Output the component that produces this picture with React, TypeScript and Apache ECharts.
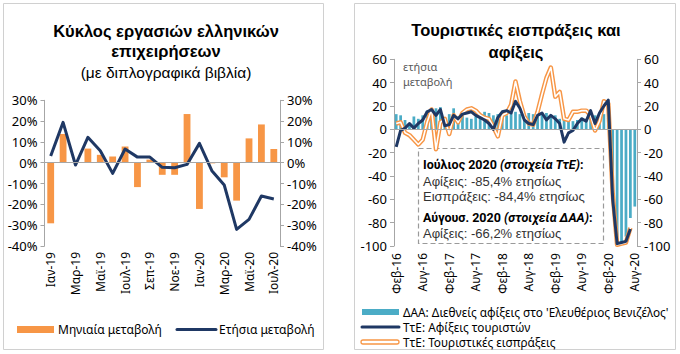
import React, { useEffect, useRef } from "react";
import * as echarts from "echarts";

const FONT = "'Noto Sans', 'DejaVu Sans', sans-serif";
const BOLD_FONT = "Roboto, 'Noto Sans', sans-serif";
const TITLE_FONT = "'Liberation Sans', Arial, sans-serif";

// ---- Left chart data ----
const leftCats = ["Ιαν-19", "Φεβ-19", "Μαρ-19", "Απρ-19", "Μαϊ-19", "Ιουν-19", "Ιουλ-19", "Αυγ-19", "Σεπ-19", "Οκτ-19", "Νοε-19", "Δεκ-19", "Ιαν-20", "Φεβ-20", "Μαρ-20", "Απρ-20", "Μαϊ-20", "Ιουν-20", "Ιουλ-20"];
const monthlyChange = [-29.1, 13.8, 0.3, 6.8, 3.8, 3.0, 7.8, -11.7, 1.5, -5.8, -5.8, 23.4, -22.2, -0.3, -7.0, -18.2, 11.7, 18.4, 6.6];
const annualChange = [3.2, 19.4, -1.1, 12.2, 5.8, -5.1, 6.6, 2.7, 2.7, -2.2, -2.4, -0.8, 9.3, -3.8, -10.7, -32.0, -27.2, -16.0, -17.4];
const leftTicks = { min: -40, max: 30, interval: 10 };

// ---- Right chart data ----
const monthNames = ["Ιαν", "Φεβ", "Μαρ", "Απρ", "Μαϊ", "Ιουν", "Ιουλ", "Αυγ", "Σεπ", "Οκτ", "Νοε", "Δεκ"];
const firstYear = 16;
const firstMonth = 1; // Φεβ
const monthCount = 55; // Φεβ-16 .. Αυγ-20
const rightCats: string[] = [];
for (let i = 0; i < monthCount; i++) {
  const m = (firstMonth + i) % 12;
  const y = firstYear + Math.floor((firstMonth + i) / 12);
  rightCats.push(monthNames[m] + "-" + y);
}
const airportArrivals = [
  13, 12, 8, 5, 11, 9, 12, 16, 17, 18, 19, 10,
  13, 18, 11, 13, 10, 9, 11, 13, 15, 14, 12, 13,
  14, 12, 14, 15, 13, 12, 14, 13, 11, 13, 14, 11,
  12, 9, 10, 8, 7, 8, 10, 9, 11, 12, 10, 13,
  10, -45, -99, -98, -92, -76, -66.2,
];
const bogArrivals = [
  -15, -1, 1, 5, 1, 5, 8, 15, 17, 12, 17, 3,
  4, 12, 9, 13, 14, 15, 12, 10, 8, 5, 0, 10,
  15, 16, 14, 24, 18, 8, 5, 4, 12, 14, 8, 12,
  9, 5, -11, -3, -1, 5, 9, 7, 16, 5, 14, 20,
  25, -60, -98, -97, -96, -85.4,
];
const bogReceipts = [
  5, 6, -3, -5, -9, -13, -9, 6, 17, -17, 6, 9,
  -4, 12, 6, 14, 17, 18, 16, 12, 10, 9, 2, -6,
  12, 14, 21, 41, 24, 11, 5, 4, 15, 30, 44, 53,
  28, 32, 9, 8, 15, 15, 16, 16, 12, -1, 7, 24,
  22, -55, -99, -98, -97, -84.4,
];
const rightTicks = { min: -100, max: 60, interval: 20 };

const ORANGE = "#F79646";
const NAVY = "#1F3864";
const TEAL = "#4BACC6";
const AXIS_GRAY = "#A6A6A6";

export default function App() {
  const ref = useRef<HTMLDivElement>(null);
  useEffect(() => {
    if (!ref.current) return;
    const chart = echarts.init(ref.current, undefined, { renderer: "svg" });
    const yAxisBase = (gridIndex: number, position: string, ticks: any, fmt: string, fs: number) => ({
      type: "value",
      gridIndex,
      position,
      min: ticks.min,
      max: ticks.max,
      interval: ticks.interval,
      axisLine: { show: true, lineStyle: { color: AXIS_GRAY, width: 1 } },
      axisTick: { show: true, length: 4, lineStyle: { color: AXIS_GRAY } },
      splitLine: { show: false },
      axisLabel: { formatter: fmt, fontSize: fs, color: "#000", fontFamily: FONT, margin: 7 },
    });
    const zeroLine = {
      silent: true,
      symbol: "none",
      label: { show: false },
      lineStyle: { color: AXIS_GRAY, type: "solid", width: 1 },
      data: [{ yAxis: 0 }],
    };
    const txt = (text: string, x: number, y: number, font: string, fill = "#000", align = "left") => ({
      type: "text",
      style: { text, x, y, font, fill, align, verticalAlign: "middle" },
    });
    const boldRich = {
      b: { font: `bold 12.5px ${BOLD_FONT}`, fill: "#000" },
      bi: { font: `italic bold 12.5px ${BOLD_FONT}`, fill: "#000" },
    };
    const option: any = {
      animation: false,
      grid: [
        { left: 44.5, top: 100.3, width: 235.5, height: 145.7 },
        { left: 394, top: 59.3, width: 243, height: 186.7 },
      ],
      xAxis: [
        {
          type: "category", gridIndex: 0, data: leftCats,
          axisLine: { show: false }, axisTick: { show: false },
          axisLabel: { rotate: 90, interval: 1, fontSize: 12, color: "#000", fontFamily: FONT, margin: 6 },
        },
        {
          type: "category", gridIndex: 1, data: rightCats,
          axisLine: { show: false }, axisTick: { show: false },
          axisLabel: { rotate: 90, interval: 5, fontSize: 12, color: "#000", fontFamily: FONT, margin: 7 },
        },
      ],
      yAxis: [
        yAxisBase(0, "left", leftTicks, "{value}%", 13),
        yAxisBase(0, "right", leftTicks, "{value}%", 13),
        yAxisBase(1, "left", rightTicks, "{value}", 13),
        yAxisBase(1, "right", rightTicks, "{value}", 13),
      ],
      series: [
        {
          name: "Μηνιαία μεταβολή", type: "bar", xAxisIndex: 0, yAxisIndex: 0,
          data: monthlyChange, barWidth: "55%", itemStyle: { color: ORANGE },
          markLine: zeroLine,
        },
        {
          name: "Ετήσια μεταβολή", type: "line", xAxisIndex: 0, yAxisIndex: 0,
          data: annualChange, symbol: "none", lineStyle: { color: NAVY, width: 3, join: "round" },
        },
        {
          name: "ΔΑΑ", type: "bar", xAxisIndex: 1, yAxisIndex: 2,
          data: airportArrivals, barWidth: "62%", itemStyle: { color: TEAL },
          markLine: zeroLine,
        },
        {
          name: "ΤτΕ εισπράξεις", type: "line", xAxisIndex: 1, yAxisIndex: 2,
          data: bogReceipts, symbol: "none", lineStyle: { color: ORANGE, width: 4.5, join: "round" },
        },
        {
          name: "ΤτΕ εισπράξεις inner", type: "line", xAxisIndex: 1, yAxisIndex: 2,
          data: bogReceipts, symbol: "none", lineStyle: { color: "#fff", width: 1.6, join: "round" },
        },
        {
          name: "ΤτΕ αφίξεις", type: "line", xAxisIndex: 1, yAxisIndex: 2,
          data: bogArrivals, symbol: "none", lineStyle: { color: NAVY, width: 3, join: "round" },
        },
      ],
      graphic: [
        // panel borders
        { type: "rect", shape: { x: 3.5, y: 3.5, width: 320, height: 346 }, style: { fill: "none", stroke: "#D0D0D0", lineWidth: 1 }, silent: true },
        { type: "rect", shape: { x: 354.5, y: 3.5, width: 321, height: 346 }, style: { fill: "none", stroke: "#D0D0D0", lineWidth: 1 }, silent: true },
        // left title
        txt("Κύκλος εργασιών ελληνικών", 166, 31, `bold 16.5px ${TITLE_FONT}`, "#000", "center"),
        txt("επιχειρήσεων", 166, 50.5, `bold 16.5px ${TITLE_FONT}`, "#000", "center"),
        txt("(με διπλογραφικά βιβλία)", 166, 72.5, `15.5px ${TITLE_FONT}`, "#000", "center"),
        // right title
        txt("Τουριστικές εισπράξεις και", 516, 29.5, `bold 16.5px ${TITLE_FONT}`, "#000", "center"),
        txt("αφίξεις", 516, 51.5, `bold 16.5px ${TITLE_FONT}`, "#000", "center"),
        // ετήσια μεταβολή
        txt("ετήσια", 403, 66, `11px ${FONT}`, "#595959"),
        txt("μεταβολή", 403, 81, `11px ${FONT}`, "#595959"),
        // annotation box
        { type: "rect", shape: { x: 418.5, y: 148.5, width: 185, height: 95 }, style: { fill: "none", stroke: "#9A9A9A", lineWidth: 1.2, lineDash: [5, 3] } },
        {
          type: "text",
          style: { text: "{b|Ιούλιος 2020 }{bi|(στοιχεία ΤτΕ)}{b|:}", x: 423, y: 164, align: "left", verticalAlign: "middle", rich: boldRich },
        },
        txt("Αφίξεις: -85,4% ετησίως", 423, 181, `13px ${TITLE_FONT}`, "#333"),
        txt("Εισπράξεις: -84,4% ετησίως", 423, 196, `13px ${TITLE_FONT}`, "#333"),
        {
          type: "text",
          style: { text: "{b|Αύγουσ. 2020 }{bi|(στοιχεία ΔΑΑ)}{b|:}", x: 423, y: 217, align: "left", verticalAlign: "middle", rich: boldRich },
        },
        txt("Αφίξεις: -66,2% ετησίως", 423, 233, `13px ${TITLE_FONT}`, "#333"),
        // left legend
        { type: "rect", shape: { x: 17, y: 326, width: 37, height: 7 }, style: { fill: ORANGE } },
        txt("Μηνιαία μεταβολή", 58, 329.5, `12px ${FONT}`),
        { type: "line", shape: { x1: 177, y1: 329.5, x2: 216, y2: 329.5 }, style: { stroke: NAVY, lineWidth: 3, lineCap: "round" } },
        txt("Ετήσια μεταβολή", 219, 329.5, `12px ${FONT}`),
        // right legend
        { type: "rect", shape: { x: 362, y: 309, width: 37, height: 6 }, style: { fill: TEAL } },
        txt("ΔΑΑ: Διεθνείς αφίξεις στο 'Ελευθέριος Βενιζέλος'", 403, 312, `11.8px ${FONT}`),
        { type: "line", shape: { x1: 362, y1: 327, x2: 399, y2: 327 }, style: { stroke: NAVY, lineWidth: 3, lineCap: "round" } },
        txt("ΤτΕ: Αφίξεις τουριστών", 403, 327, `11.8px ${FONT}`),
        { type: "rect", shape: { x: 361, y: 340, width: 38, height: 4, r: 2 }, style: { fill: "#fff", stroke: ORANGE, lineWidth: 1.3 } },
        txt("ΤτΕ: Τουριστικές εισπράξεις", 403, 342, `11.8px ${FONT}`),
      ],
    };
    chart.setOption(option);
    return () => chart.dispose();
  }, []);
  return <div ref={ref} style={{ position: "fixed", left: 0, top: 0, width: 680, height: 354, background: "#fff" }} />;
}
